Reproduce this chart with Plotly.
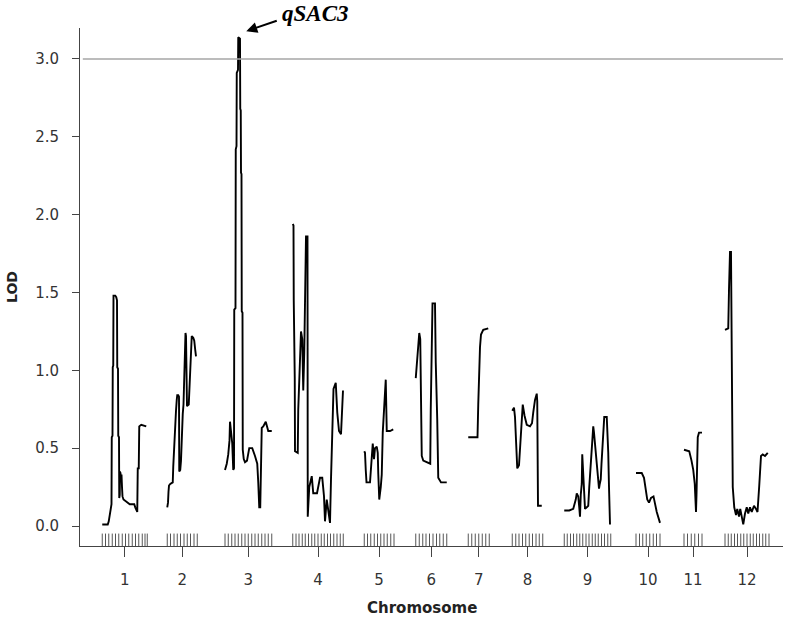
import plotly.graph_objects as go

# ---------------- data ----------------
chrom_names = ["1", "2", "3", "4", "5", "6", "7", "8", "9", "10", "11", "12"]
chrom_len = [180, 151, 191, 206, 126, 130, 96, 128, 207, 112, 84, 178]  # cM
gap_cm = 80
threshold = 3.0

# LOD profile per chromosome: (position cM, LOD)
lod_c1 = [(0,0.01),(22,0.01),(26,0.03),(30,0.07),(34,0.11),(37,0.14),(38,0.57),(41,0.58),(42,1.02),(44,1.03),(45,1.48),(52,1.48),(56,1.47),(59,1.45),(60,1.02),(63,1.01),(64,0.58),(67,0.57),(68,0.18),(70,0.20),(71,0.35),(73,0.34),(75,0.29),(77,0.33),(79,0.25),(81,0.19),(85,0.17),(92,0.16),(100,0.15),(110,0.14),(120,0.14),(128,0.14),(132,0.12),(136,0.10),(140,0.09),(142,0.37),(146,0.37),(148,0.64),(156,0.65),(176,0.64)]
lod_c2 = [(0,0.12),(3,0.15),(5,0.22),(7,0.26),(12,0.27),(22,0.28),(24,0.38),(27,0.48),(29,0.62),(31,0.70),(35,0.74),(38,0.81),(40,0.84),(44,0.84),(47,0.83),(48,0.35),(52,0.36),(55,0.42),(58,0.60),(60,0.64),(62,0.72),(65,0.78),(67,0.93),(70,1.05),(71,1.08),(73,1.24),(75,1.22),(77,0.90),(79,0.77),(86,0.78),(88,0.85),(90,1.00),(92,1.05),(95,1.20),(98,1.22),(104,1.21),(108,1.19),(112,1.13),(115,1.09)]
lod_c3 = [(0,0.36),(7,0.40),(13,0.46),(18,0.55),(20,0.67),(24,0.62),(29,0.53),(33,0.36),(36,0.37),(37,1.39),(42,1.40),(43,2.42),(46,2.44),(47,2.91),(52,2.93),(53,3.14),(60,3.13),(61,2.68),(63,2.67),(64,2.27),(66,2.26),(67,1.38),(70,1.37),(71,0.49),(75,0.43),(80,0.41),(88,0.42),(97,0.50),(109,0.50),(120,0.45),(129,0.40),(133,0.28),(137,0.12),(141,0.12),(143,0.45),(147,0.63),(153,0.64),(163,0.67),(173,0.61),(187,0.61)]
lod_c4 = [(0,1.94),(3,1.93),(4,1.45),(5,0.96),(8,0.95),(9,0.48),(20,0.47),(22,0.75),(29,1.00),(33,1.25),(38,1.20),(42,0.87),(46,1.11),(49,1.52),(53,1.86),(59,1.86),(60,0.06),(66,0.25),(76,0.32),(82,0.21),(97,0.21),(109,0.31),(118,0.31),(125,0.19),(129,0.03),(136,0.17),(142,0.10),(149,0.02),(153,0.30),(159,0.62),(163,0.88),(172,0.92),(178,0.73),(185,0.61),(193,0.59),(201,0.87)]
lod_c5 = [(0,0.48),(3,0.47),(6,0.36),(9,0.28),(23,0.28),(30,0.47),(34,0.53),(39,0.43),(43,0.50),(50,0.51),(54,0.47),(56,0.34),(60,0.17),(66,0.25),(70,0.33),(74,0.60),(80,0.77),(84,0.80),(86,0.94),(90,0.61),(103,0.61),(116,0.62)]
lod_c6 = [(0,0.95),(5,1.05),(10,1.14),(14,1.24),(18,1.20),(20,0.98),(21,0.71),(24,0.45),(30,0.42),(44,0.41),(54,0.40),(58,0.40),(60,0.75),(64,1.09),(67,1.43),(77,1.43),(80,1.05),(86,0.68),(90,0.31),(101,0.28),(124,0.28)]
lod_c7 = [(0,0.57),(37,0.57),(40,0.78),(43,1.00),(47,1.15),(51,1.23),(60,1.26),(80,1.27)]
lod_c8 = [(0,0.74),(7,0.76),(11,0.70),(15,0.49),(20,0.37),(27,0.39),(31,0.50),(35,0.65),(42,0.78),(49,0.71),(58,0.65),(71,0.64),(79,0.66),(84,0.73),(91,0.81),(98,0.85),(100,0.80),(103,0.13),(118,0.13)]
lod_c9 = [(0,0.10),(20,0.10),(36,0.11),(42,0.14),(46,0.17),(50,0.21),(56,0.19),(60,0.12),(63,0.06),(66,0.20),(70,0.27),(72,0.46),(76,0.32),(80,0.18),(83,0.11),(90,0.12),(96,0.13),(100,0.25),(103,0.32),(107,0.45),(110,0.51),(116,0.64),(119,0.60),(123,0.53),(126,0.45),(130,0.36),(135,0.27),(139,0.24),(142,0.27),(146,0.30),(149,0.40),(152,0.49),(156,0.60),(160,0.70),(170,0.70),(173,0.60),(176,0.47),(179,0.25),(183,0.01)]
lod_c10 = [(0,0.34),(23,0.34),(32,0.31),(40,0.21),(45,0.17),(52,0.15),(60,0.18),(70,0.19),(76,0.14),(83,0.09),(96,0.02)]
lod_c11 = [(0,0.49),(21,0.48),(30,0.42),(37,0.36),(43,0.27),(46,0.15),(48,0.09),(50,0.20),(52,0.34),(55,0.57),(60,0.60),(72,0.60)]
lod_c12 = [(0,1.26),(13,1.27),(16,1.52),(20,1.76),(24,1.76),(27,0.75),(31,0.25),(37,0.12),(44,0.07),(49,0.11),(56,0.06),(61,0.11),(67,0.06),(73,0.01),(80,0.08),(87,0.12),(93,0.08),(100,0.12),(107,0.09),(116,0.13),(124,0.11),(130,0.09),(137,0.26),(144,0.45),(151,0.46),(160,0.45),(171,0.47)]

# marker positions (cM) per chromosome
mk_c1 = [0,13,26,40,53,66,80,93,106,120,133,146,160,171,180]
mk_c2 = [0,13,27,40,53,67,80,93,107,120]
mk_c3 = [0,13,27,40,53,67,80,93,107,120,133,147,160,173,187]
mk_c4 = [0,13,25,38,50,63,76,88,101,114,126,139,151,164,177,190,202]
mk_c5 = [0,13,26,40,53,66,79,92,106,119]
mk_c6 = [0,14,28,41,55,69,83,96,110,124]
mk_c7 = [0,14,28,42,56,70,84]
mk_c8 = [0,14,27,41,54,68,81,95,108,122]
mk_c9 = [0,12,25,37,50,62,74,87,99,112,124,136,149,161,174,186]
mk_c10 = [0,14,27,41,55,69,82,96]
mk_c11 = [0,14,29,43,58,72]
mk_c12 = [0,13,25,38,50,63,75,88,101,113,126,138,151,163,176]

lod_all = [lod_c1, lod_c2, lod_c3, lod_c4, lod_c5, lod_c6, lod_c7, lod_c8, lod_c9, lod_c10, lod_c11, lod_c12]
mk_all = [mk_c1, mk_c2, mk_c3, mk_c4, mk_c5, mk_c6, mk_c7, mk_c8, mk_c9, mk_c10, mk_c11, mk_c12]

# --------------- layout of chromosomes on a genome axis ---------------
offsets = []
acc = 0
for L in chrom_len:
    offsets.append(acc)
    acc += L + gap_cm

fig = go.Figure()

for off, prof in zip(offsets, lod_all):
    fig.add_trace(go.Scatter(
        x=[off + p for p, _ in prof], y=[v for _, v in prof],
        mode="lines", line=dict(color="black", width=1.9),
        hoverinfo="skip", showlegend=False))

# marker rug
for off, mks in zip(offsets, mk_all):
    for m in mks:
        fig.add_shape(type="line", xref="x", yref="y domain",
                      x0=off + m, x1=off + m, y0=0, y1=0.024,
                      line=dict(color="#555555", width=1))

# threshold line
fig.add_shape(type="line", xref="paper", yref="y", x0=0.004, x1=1.0,
              y0=threshold, y1=threshold, line=dict(color="#a6a6a6", width=1.5))

tick_pos = [off + (m[0] + m[-1]) / 2 for off, m in zip(offsets, mk_all)]

# peak annotation
i_pk = max(range(len(lod_c3)), key=lambda i: lod_c3[i][1])
pk_x = offsets[2] + lod_c3[i_pk][0]
pk_y = lod_c3[i_pk][1]
fig.add_annotation(x=pk_x, y=pk_y, xref="x", yref="y", text="",
                   showarrow=True, arrowhead=2, arrowsize=1.1, arrowwidth=2,
                   arrowcolor="black", ax=32, ay=-11, xshift=8, yshift=6)
fig.add_annotation(x=pk_x, y=pk_y, xref="x", yref="y", text="<b><i>qSAC3</i></b>",
                   showarrow=False, xanchor="left", yanchor="middle",
                   xshift=42, yshift=24,
                   font=dict(family="Liberation Serif", size=23, color="black"))

# axis titles
fig.add_annotation(x=0.5, y=0, xref="paper", yref="paper", text="<b>Chromosome</b>",
                   showarrow=False, xanchor="center", yanchor="middle", yshift=-62,
                   xshift=-10,
                   font=dict(family="DejaVu Sans", size=15, color="#222222"))
fig.add_annotation(x=0, y=0.5, xref="paper", yref="paper", text="<b>LOD</b>",
                   showarrow=False, textangle=-90, xanchor="center", yanchor="middle",
                   xshift=-68,
                   font=dict(family="DejaVu Sans", size=14, color="#222222"))

x_min = -89
x_max = offsets[-1] + 232
fig.update_layout(
    width=787, height=618,
    margin=dict(l=80, r=4, t=28, b=72),
    paper_bgcolor="white", plot_bgcolor="white",
    showlegend=False,
    xaxis=dict(range=[x_min, x_max], showgrid=False, zeroline=False,
               showline=True, linecolor="#444444", linewidth=1,
               ticks="outside", ticklen=10, tickcolor="#444444", tickwidth=1,
               tickvals=tick_pos, ticktext=chrom_names, ticklabelstandoff=10,
               tickfont=dict(family="DejaVu Sans", size=15, color="#333333")),
    yaxis=dict(range=[-0.1285, 3.199], showgrid=False, zeroline=False,
               showline=True, linecolor="#444444", linewidth=1,
               ticks="outside", ticklen=7, tickcolor="#444444", tickwidth=1,
               tickvals=[0, 0.5, 1.0, 1.5, 2.0, 2.5, 3.0], tickformat=".1f",
               ticklabelstandoff=10,
               tickfont=dict(family="DejaVu Sans", size=15, color="#333333")),
)

fig.write_html("out.html", config={"displayModeBar": False},
               post_script="document.body.style.margin='0px';document.body.style.overflow='hidden';")
